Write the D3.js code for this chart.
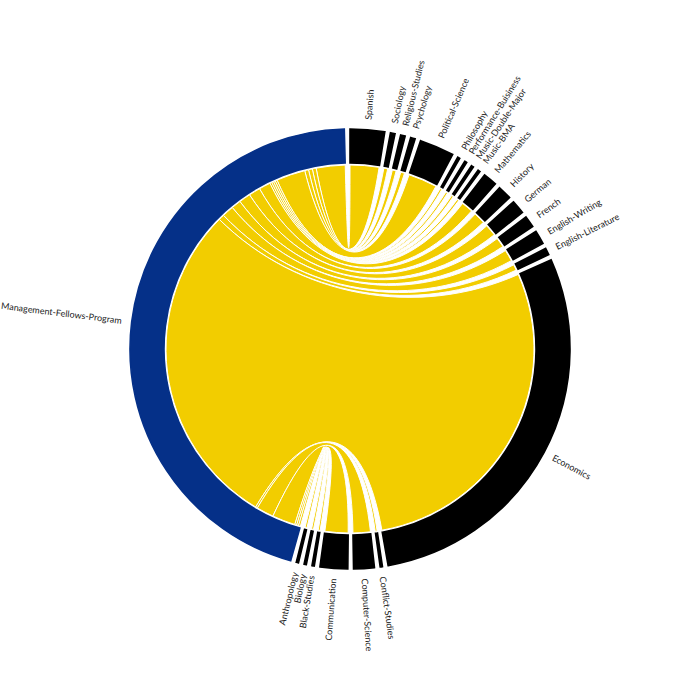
<!DOCTYPE html>
<html><head><meta charset="utf-8">
<script src="https://cdn.jsdelivr.net/npm/d3@7"></script>
<style>body{margin:0;background:#fff}</style>
</head><body>
<svg id="chart" width="700" height="700"></svg>
<script>
const hub = "Management-Fellows-Program";
const majors = ["Spanish","Sociology","Religious-Studies","Psychology","Political-Science","Philosophy","Performance-Buisiness","Music-Double-Major","Music-BMA","Mathematics","History","German","French","English-Writing","English-Literature","Economics","Conflict-Studies","Computer-Science","Communication","Black-Studies","Biology","Anthropology"];
const counts = [15,2,2,2,15,1,1,1,1,6,6,6,5,6,3,171,1,9,12,1,1,1];

const names = majors.concat([hub]);
const n = names.length;
const matrix = names.map((_, i) => names.map((_, j) => {
  if (i === n - 1 && j < n - 1) return counts[j];
  if (j === n - 1 && i < n - 1) return counts[i];
  return 0;
}));

const outer = 220, inner = 186, ribR = 184, curve = 0.4;
const cx = 350, cy = 349;
const blue = "#053088", black = "#000000", yellow = "#F2CD00";

const chords = d3.chord().padAngle(0.026)(matrix);
const groups = chords.groups;
const hubG = groups[n - 1];
const k = (hubG.endAngle - hubG.startAngle) / hubG.value;

// hub subgroups laid out in reverse order so ribbons nest without crossing
let a = hubG.startAngle;
const hubPos = {};
for (let i = n - 2; i >= 0; i--) {
  hubPos[i] = {startAngle: a, endAngle: a + counts[i] * k};
  a += counts[i] * k;
}
const ribbonsData = majors.map((m, i) => ({
  source: {startAngle: groups[i].startAngle, endAngle: groups[i].endAngle},
  target: hubPos[i]
}));

// ribbon with cubic curves whose control points sit part-way to the centre
function ribbonPath(d) {
  const p = d3.path();
  const pt = (ang, r) => [r * Math.cos(ang - Math.PI / 2), r * Math.sin(ang - Math.PI / 2)];
  const s0 = d.source.startAngle, s1 = d.source.endAngle;
  const t0 = d.target.startAngle, t1 = d.target.endAngle;
  const S0 = pt(s0, ribR), S1 = pt(s1, ribR), T0 = pt(t0, ribR), T1 = pt(t1, ribR);
  p.moveTo(S0[0], S0[1]);
  p.arc(0, 0, ribR, s0 - Math.PI / 2, s1 - Math.PI / 2);
  p.bezierCurveTo(S1[0] * curve, S1[1] * curve, T0[0] * curve, T0[1] * curve, T0[0], T0[1]);
  p.arc(0, 0, ribR, t0 - Math.PI / 2, t1 - Math.PI / 2);
  p.bezierCurveTo(T1[0] * curve, T1[1] * curve, S0[0] * curve, S0[1] * curve, S0[0], S0[1]);
  p.closePath();
  return p.toString();
}

const svg = d3.select("#chart");
const g = svg.append("g").attr("transform", `translate(${cx},${cy})`);

const arc = d3.arc().innerRadius(inner).outerRadius(outer);
g.append("g").selectAll("path").data(groups).join("path")
  .attr("d", arc)
  .attr("fill", d => d.index === n - 1 ? blue : black)
  .attr("stroke", d => d.index === n - 1 ? blue : black)
  .attr("stroke-width", 1.6);

g.append("g").selectAll("path").data(ribbonsData).join("path")
  .attr("d", ribbonPath)
  .attr("fill", yellow)
  .attr("stroke", "#ffffff")
  .attr("stroke-width", 1);

g.append("g").selectAll("text").data(groups).join("text")
  .each(d => { d.angle = (d.startAngle + d.endAngle) / 2; })
  .attr("transform", d => `rotate(${d.angle * 180 / Math.PI - 90}) translate(${outer + 10})${d.angle > Math.PI ? " rotate(180)" : ""}`)
  .attr("dy", ".35em")
  .attr("text-anchor", d => d.angle > Math.PI ? "end" : "start")
  .attr("font-family", "Lato, 'Open Sans', sans-serif")
  .attr("font-size", "9px")
  .attr("fill", "#222")
  .text(d => names[d.index]);
</script>
</body></html>
